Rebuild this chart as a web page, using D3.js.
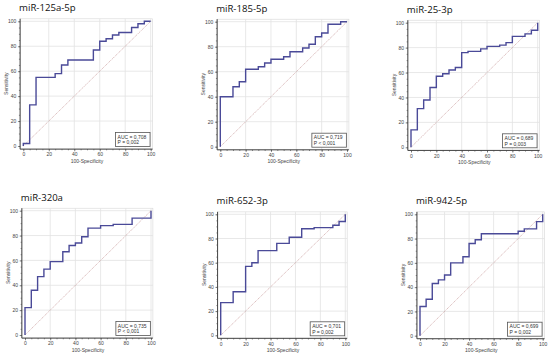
<!DOCTYPE html>
<html>
<head>
<meta charset="utf-8">
<script src="https://cdn.jsdelivr.net/npm/d3@7"></script>
<style>
  body { margin: 0; background: #fff; }
  text { font-family: "Liberation Sans", Arial, sans-serif; }
</style>
</head>
<body>
<div id="canvas"></div>
<script>
// ---- data (100-specificity, sensitivity) ----
const titles = ["miR-125a-5p", "miR-185-5p", "miR-25-3p", "miR-320a", "miR-652-3p", "miR-942-5p"];
const aucText = ["AUC = 0,708", "AUC = 0,719", "AUC = 0,689", "AUC = 0,735", "AUC = 0,701", "AUC = 0,699"];
const pText = ["P = 0,002", "P < 0,001", "P = 0,003", "P < 0,001", "P = 0,002", "P = 0,002"];

const fpr125a = [0, 5, 10, 25, 30, 35, 55, 60, 65, 70, 75, 85, 90, 95, 100];
const tpr125a = [0, 2, 33, 55, 58, 65, 69, 77, 84, 86, 89, 91, 95, 98, 100];

const fpr185 = [0, 10, 15, 20, 30, 35, 40, 50, 55, 65, 70, 75, 80, 85, 95, 100];
const tpr185 = [0, 40, 48, 52, 62, 64, 67, 70, 72, 76, 79, 82, 88, 91, 98, 100];

const fpr25 = [0, 5, 10, 15, 20, 25, 30, 35, 40, 45, 55, 60, 70, 75, 80, 90, 95, 100, 100];
const tpr25 = [0, 14, 31, 38, 48, 57, 59, 62, 64, 76, 77, 79, 81, 82, 84, 89, 91, 94, 100];

const fpr320a = [0, 5, 10, 15, 20, 30, 35, 40, 45, 50, 60, 70, 85, 100, 100];
const tpr320a = [0, 22, 36, 47, 53, 59, 67, 72, 74, 79, 86, 88, 89, 94, 100];

const fpr652 = [0, 10, 20, 25, 30, 45, 55, 65, 75, 90, 95, 100, 100];
const tpr652 = [0, 27, 36, 57, 60, 70, 76, 81, 88, 89, 91, 94, 100];

const fpr942 = [0, 5, 10, 15, 20, 25, 35, 40, 45, 50, 80, 85, 95, 100, 100];
const tpr942 = [0, 24, 30, 43, 46, 50, 60, 65, 76, 79, 84, 86, 88, 94, 100];

const curvesX = [fpr125a, fpr185, fpr25, fpr320a, fpr652, fpr942];
const curvesY = [tpr125a, tpr185, tpr25, tpr320a, tpr652, tpr942];

const majorTicks = [0, 20, 40, 60, 80, 100];
const minorTicks = d3.range(0, 101, 5);

// pixel positions of 0 and 100 on each panel
const frames = [
  {x0: 23.3, x1: 150.7, y0: 146.0, y1: 21.3},
  {x0: 220.3, x1: 347.0, y0: 146.7, y1: 21.7},
  {x0: 411.0, x1: 537.7, y0: 147.3, y1: 22.7},
  {x0: 25.0, x1: 151.0, y0: 335.0, y1: 210.7},
  {x0: 220.7, x1: 345.3, y0: 335.3, y1: 214.3},
  {x0: 420.0, x1: 542.7, y0: 335.7, y1: 214.3}
];

const w = 550, h = 357;
const svg = d3.select("#canvas").append("svg")
    .attr("width", w)
    .attr("height", h)
    .attr("viewBox", [0, 0, w, h]);

frames.forEach((f, i) => drawPanel(f, i));

function drawPanel(f, i) {
  const x = d3.scaleLinear().domain([0, 100]).range([f.x0, f.x1]);
  const y = d3.scaleLinear().domain([0, 100]).range([f.y0, f.y1]);
  const left = x(-2.5), right = x(101.5), bottom = y(-2.5), top = y(102);
  const g = svg.append("g");

  // plot frame + grid
  g.append("rect")
      .attr("x", left).attr("y", top)
      .attr("width", right - left).attr("height", bottom - top)
      .attr("fill", "none").attr("stroke", "#d6d6d6").attr("stroke-width", 0.6);

  g.selectAll(".gx").data(majorTicks.slice(1))
    .enter().append("line")
      .attr("x1", d => x(d)).attr("x2", d => x(d))
      .attr("y1", top).attr("y2", bottom)
      .attr("stroke", "#e2e2e2").attr("stroke-width", 0.8);
  g.selectAll(".gy").data(majorTicks.slice(1))
    .enter().append("line")
      .attr("y1", d => y(d)).attr("y2", d => y(d))
      .attr("x1", left).attr("x2", right)
      .attr("stroke", "#e2e2e2").attr("stroke-width", 0.8);

  // axes
  const xAxis = d3.axisBottom(x).tickValues(majorTicks).tickSize(2.2).tickPadding(1.6);
  const yAxis = d3.axisLeft(y).tickValues(majorTicks).tickSize(2.2).tickPadding(1.6);
  const xMinor = d3.axisBottom(x).tickValues(minorTicks).tickSize(1.2).tickFormat("");
  const yMinor = d3.axisLeft(y).tickValues(minorTicks).tickSize(1.2).tickFormat("");

  const gx = g.append("g").attr("transform", "translate(0," + bottom + ")");
  gx.call(xMinor);
  gx.append("g").call(xAxis);
  const gy = g.append("g").attr("transform", "translate(" + left + ",0)");
  gy.call(yMinor);
  gy.append("g").call(yAxis);

  [gx, gy].forEach(a => {
    a.selectAll(".domain").remove();
    a.selectAll("line").attr("stroke", "#444").attr("stroke-width", 0.6);
    a.selectAll("text").attr("font-size", 5).attr("fill", "#444")
        .style("font-family", "Liberation Sans, Arial, sans-serif");
  });
  g.append("line")
      .attr("x1", left).attr("x2", right).attr("y1", bottom).attr("y2", bottom)
      .attr("stroke", "#444").attr("stroke-width", 1);
  g.append("line")
      .attr("x1", left).attr("x2", left).attr("y1", top).attr("y2", bottom)
      .attr("stroke", "#444").attr("stroke-width", 1);

  // reference diagonal
  g.append("line")
      .attr("x1", x(0)).attr("y1", y(0)).attr("x2", x(100)).attr("y2", y(100))
      .attr("stroke", "#c79a9a").attr("stroke-width", 0.7)
      .attr("stroke-dasharray", "1.2,0.8");

  // ROC step curve
  const pts = curvesX[i].map((v, k) => [v, curvesY[i][k]]);
  const line = d3.line().x(d => x(d[0])).y(d => y(d[1])).curve(d3.curveStepBefore);
  g.append("path")
      .attr("d", line(pts))
      .attr("fill", "none")
      .attr("stroke", "#4a4a98")
      .attr("stroke-width", 1.4);

  // AUC box
  const bw = 34.5, bh = 14;
  const bx = x(99.5) - bw, by = y(0) - bh + 0.5;
  g.append("rect")
      .attr("x", bx).attr("y", by).attr("width", bw).attr("height", bh)
      .attr("fill", "#fff").attr("stroke", "#555").attr("stroke-width", 0.8);
  g.append("text").attr("x", bx + 2).attr("y", by + 6)
      .attr("font-size", 5).attr("fill", "#333").text(aucText[i]);
  g.append("text").attr("x", bx + 2).attr("y", by + 11.8)
      .attr("font-size", 5).attr("fill", "#333").text(pText[i]);

  // titles and axis labels
  g.append("text")
      .attr("x", left - 1).attr("y", y(100) - 10)
      .attr("font-size", 9.6)
      .style("font-family", "'Open Sans', sans-serif")
      .attr("fill", "#111")
      .text(titles[i]);

  g.append("text")
      .attr("x", (x(0) + x(100)) / 2).attr("y", bottom + 13.5)
      .attr("text-anchor", "middle")
      .attr("font-size", 5).attr("fill", "#444")
      .text("100-Specificity");

  g.append("text")
      .attr("transform", "translate(" + (x(0) - 15) + "," + y(50) + ") rotate(-90)")
      .attr("text-anchor", "middle")
      .attr("font-size", 5).attr("fill", "#444")
      .text("Sensitivity");
}
</script>
</body>
</html>
